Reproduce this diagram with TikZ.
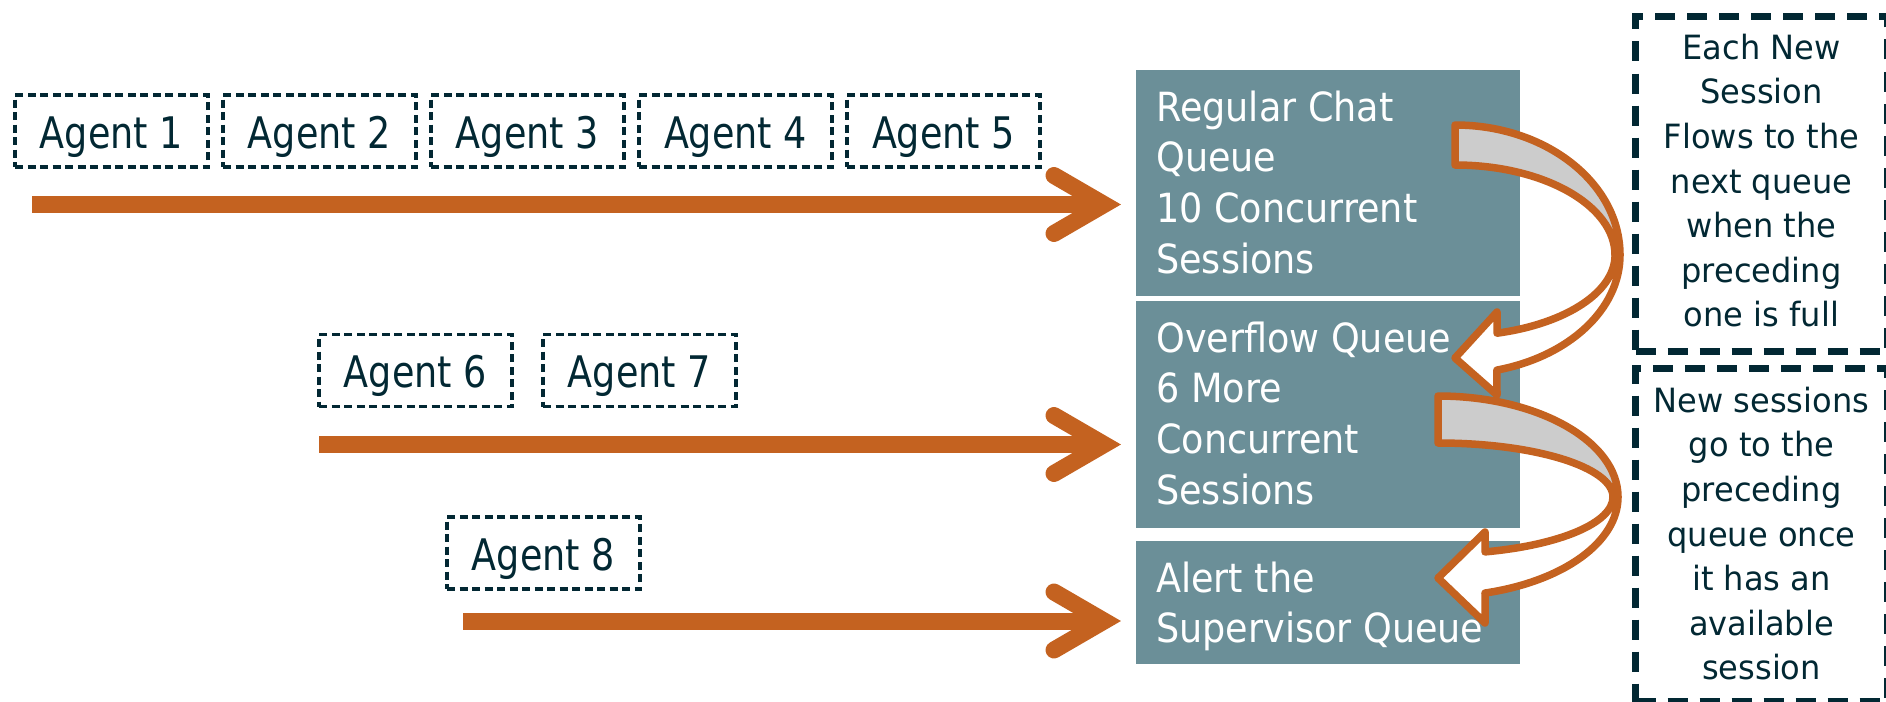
\documentclass[tikz,border=0pt]{standalone}
\usepackage{fontspec}
\setmainfont{DejaVu Sans}
\newfontfamily\qfont[FakeStretch=0.91]{DejaVu Sans}
\newfontfamily\afont[FakeStretch=0.84]{DejaVu Sans}
\newfontfamily\rfont[FakeStretch=0.96]{DejaVu Sans}
\usetikzlibrary{calc}
\definecolor{orng}{RGB}{196,98,32}
\definecolor{qcol}{RGB}{107,143,152}
\definecolor{darkc}{RGB}{2,40,51}
\definecolor{grayc}{RGB}{204,204,204}
\begin{document}
\begin{tikzpicture}[x=1pt,y=-1pt,
  agent/.style={draw=darkc, line width=3.2pt, dash pattern=on 8pt off 4.5pt,
    minimum width=193pt, minimum height=72pt, inner sep=0pt, text=darkc,
    font=\afont\fontsize{43.5}{52}\selectfont, text height=34pt, text depth=0pt},
  queue/.style={fill=qcol, anchor=north west, minimum width=384pt, inner sep=0pt},
  qtext/.style={anchor=north west, inner sep=0pt, align=left, text=white,
    font=\qfont\fontsize{40.2}{50.7}\selectfont},
  rbox/.style={draw=darkc, line width=7pt, dash pattern=on 20pt off 12pt,
    anchor=north west, minimum width=252pt, inner sep=0pt},
  rtext/.style={anchor=north, inner sep=0pt, align=center, text=darkc,
    font=\rfont\fontsize{33.4}{44.6}\selectfont},
  flow/.style={draw=orng, line width=17pt},
  tipline/.style={draw=orng, line width=17pt, line cap=round, miter limit=20},
  back/.style={fill=grayc, draw=orng, line width=7.5pt, line join=round},
  front/.style={fill=white, draw=orng, line width=7.5pt, line join=round}]
\useasboundingbox (0,0) rectangle (1886,701);

% agents
\node[agent] (a1) at (111.5,131) {Agent 1};
\node[agent] (a2) at (319.5,131) {Agent 2};
\node[agent] (a3) at (527.5,131) {Agent 3};
\node[agent] (a4) at (735.5,131) {Agent 4};
\node[agent] (a5) at (943.5,131) {Agent 5};
\node[agent] (a6) at (415.5,370.5) {Agent 6};
\node[agent] (a7) at (639.5,370.5) {Agent 7};
\node[agent] (a8) at (543.5,553) {Agent 8};

% queues
\node[queue, minimum height=226pt] (q1) at (1136,70) {};
\node[queue, minimum height=227pt] (q2) at (1136,301) {};
\node[queue, minimum height=123pt] (q3) at (1136,541) {};
\node[qtext] (q1t) at ($(q1.north west)+(20,20)$) {\rule{0pt}{31pt}Regular Chat\\Queue\\10 Concurrent\\Sessions};
\node[qtext] (q2t) at ($(q2.north west)+(20,20)$) {\rule{0pt}{31pt}Overflow Queue\\6 More\\Concurrent\\Sessions};
\node[qtext] (q3t) at ($(q3.north west)+(20,20)$) {\rule{0pt}{31pt}Alert the\\Supervisor Queue};

% right notes
\node[rbox, minimum height=335pt] (r1) at (1632,13) {};
\node[rbox, minimum height=333pt] (r2) at (1632,365) {};
\node[rtext] (r1t) at ($(r1.north)+(0,20)$) {\rule{0pt}{26pt}Each New\\Session\\Flows to the\\next queue\\when the\\preceding\\one is full};
\node[rtext] (r2t) at ($(r2.north)+(0,21)$) {\rule{0pt}{26pt}New sessions\\go to the\\preceding\\queue once\\it has an\\available\\session};

% straight arrows
\coordinate (s1) at (32,204.5);
\coordinate (t1) at (1104,204.5);
\coordinate (s2) at (319,444.5);
\coordinate (t2) at (1104,444.5);
\coordinate (s3) at (463,621);
\coordinate (t3) at (1104,621);
\foreach \i in {1,2,3}{
  \draw[flow] (s\i) -- (t\i);
  \draw[tipline] ($(t\i)+(-50,-29)$) -- (t\i) -- ($(t\i)+(-50,29)$);
}

% curved arrow 1
\draw[back] (1455,125) arc[start angle=-90,end angle=0,x radius=165,y radius=130]
  -- (1615,255) arc[start angle=0,end angle=-90,x radius=160,y radius=90] -- cycle;
\draw[front] (1620,255) arc[start angle=0,end angle=75.3,x radius=165,y radius=119]
  -- (1497,395) -- (1455,358) -- (1497,312) -- (1497,333.2)
  arc[start angle=74.8,end angle=0,x radius=160,y radius=81] -- cycle;

% curved arrow 2
\draw[back] (1438,396) arc[start angle=-90,end angle=0,x radius=180,y radius=101]
  -- (1613,497) arc[start angle=0,end angle=-90,x radius=175,y radius=54] -- cycle;
\draw[front] (1618,497) arc[start angle=0,end angle=74.87,x radius=180,y radius=99.5]
  -- (1485,623) -- (1438,578) -- (1485,532) -- (1485,551.9)
  arc[start angle=74.42,end angle=0,x radius=175,y radius=57] -- cycle;
\end{tikzpicture}
\end{document}
